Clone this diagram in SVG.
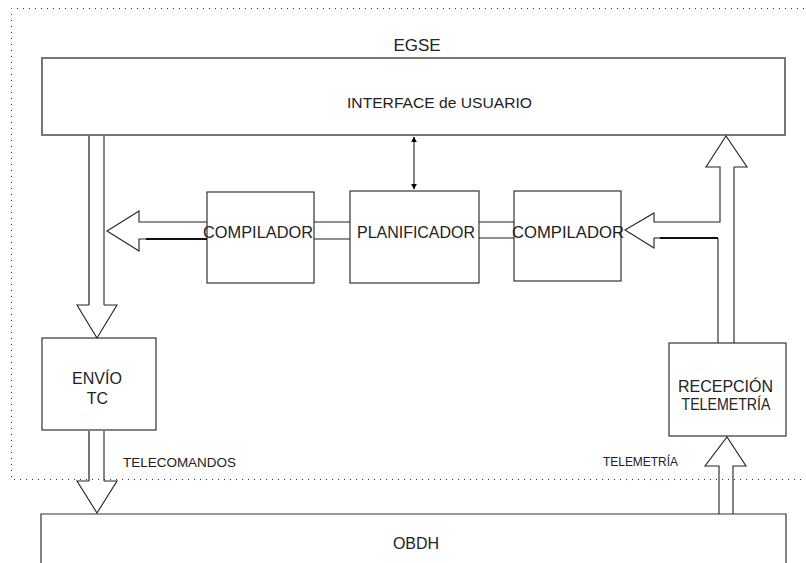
<svg xmlns="http://www.w3.org/2000/svg" width="806" height="563" viewBox="0 0 806 563">
<defs>
<marker id="ah" viewBox="0 0 10 10" refX="9" refY="5" markerWidth="6" markerHeight="8" markerUnits="userSpaceOnUse" orient="auto-start-reverse">
<path d="M0,0 L10,5 L0,10 z" fill="#000"/>
</marker>
</defs>
<style>
.box{fill:#fff;stroke:#333;stroke-width:1.2}
.big{fill:#fff;stroke:#777;stroke-width:2}
.ln{fill:none;stroke:#222;stroke-width:1.1}
.thk{fill:none;stroke:#111;stroke-width:2}
.gry{fill:none;stroke:#777;stroke-width:2}
.frame{fill:none;stroke:#333;stroke-width:1;stroke-dasharray:1 5}
text{font-family:"Liberation Sans",Arial,sans-serif;fill:#222}
.lbl{font-size:16px;text-anchor:middle}
.sm{font-size:13px}
</style>
<rect width="806" height="563" fill="#fff"/>
<path class="frame" d="M810,8.5 H11.5 V479.5 H810"/>
<text x="417" y="51" font-size="17" text-anchor="middle">EGSE</text>

<g id="interface">
<rect class="big" x="42" y="58" width="743" height="77"/>
<text x="439.5" y="108" font-size="15.5" text-anchor="middle" textLength="185" lengthAdjust="spacingAndGlyphs">INTERFACE de USUARIO</text>
</g>

<g id="compilador-tc">
<rect class="box" x="207" y="192" width="107" height="91"/>
<text class="lbl" x="258" y="238" textLength="110" lengthAdjust="spacingAndGlyphs">COMPILADOR</text>
</g>

<g id="planificador">
<rect class="box" x="350" y="191" width="129" height="92"/>
<text class="lbl" x="416" y="238" textLength="118" lengthAdjust="spacingAndGlyphs">PLANIFICADOR</text>
</g>

<g id="compilador-tm">
<rect class="box" x="514" y="191" width="107" height="90"/>
<text class="lbl" x="568" y="238" textLength="112" lengthAdjust="spacingAndGlyphs">COMPILADOR</text>
</g>

<g id="envio-tc">
<rect class="box" x="42" y="338" width="114" height="92"/>
<text class="lbl" x="97" y="384" textLength="50" lengthAdjust="spacingAndGlyphs">ENVÍO</text>
<text class="lbl" x="97.5" y="404">TC</text>
</g>

<g id="recepcion-telemetria">
<rect class="box" x="669" y="343" width="117" height="93"/>
<text class="lbl" x="725.5" y="392" textLength="95" lengthAdjust="spacingAndGlyphs">RECEPCIÓN</text>
<text class="lbl" x="726" y="410" textLength="89" lengthAdjust="spacingAndGlyphs">TELEMETRÍA</text>
</g>

<g id="obdh">
<path class="box" d="M41,570 V514 H786 V570"/>
<text class="lbl" x="416" y="549">OBDH</text>
</g>

<g id="connectors">
<!-- INTERFACE to ENVIO TC -->
<path class="gry" d="M89,136 V305"/>
<path class="ln" d="M104,136 V305"/>
<path class="ln" d="M89,305 H77 L97,338 L117,305 H104"/>
<!-- ENVIO TC to OBDH -->
<path class="gry" d="M89,431 V481"/>
<path class="ln" d="M104,431 V481"/>
<path class="ln" d="M89,481 H77 L97,513 L117,481 H104"/>
<!-- OBDH to RECEPCION -->
<path class="ln" d="M719,514 V466 H705 L727,437 L746,466 H733 V514"/>
<!-- RECEPCION to INTERFACE with branch to COMPILADOR -->
<path class="ln" d="M734,343 V167 H747 L726,136 L706,167 H720 V222 H654 V213 L625,230 L654,248 V238"/>
<path class="ln" d="M654,238 H660"/>
<path class="thk" d="M660,238 H718"/>
<path class="ln" d="M718,238 V343"/>
<!-- PLANIFICADOR to COMPILADOR (TM) -->
<path class="ln" d="M479,222 H514 M479,238 H514"/>
<!-- COMPILADOR (TC) to PLANIFICADOR -->
<path class="ln" d="M314,222 H350 M314,239 H350"/>
<!-- COMPILADOR (TC) output arrow -->
<path class="ln" d="M207,222 H139 V211 L107,231 L139,251 V239 H146"/>
<path class="thk" d="M146,239 H207"/>
<!-- INTERFACE to PLANIFICADOR (bidirectional) -->
<line class="ln" x1="414" y1="137" x2="414" y2="189" marker-start="url(#ah)" marker-end="url(#ah)"/>
<text class="sm" x="123" y="467" textLength="113" lengthAdjust="spacingAndGlyphs">TELECOMANDOS</text>
<text class="sm" x="603" y="466" textLength="75" lengthAdjust="spacingAndGlyphs">TELEMETRÍA</text>
</g>
</svg>
